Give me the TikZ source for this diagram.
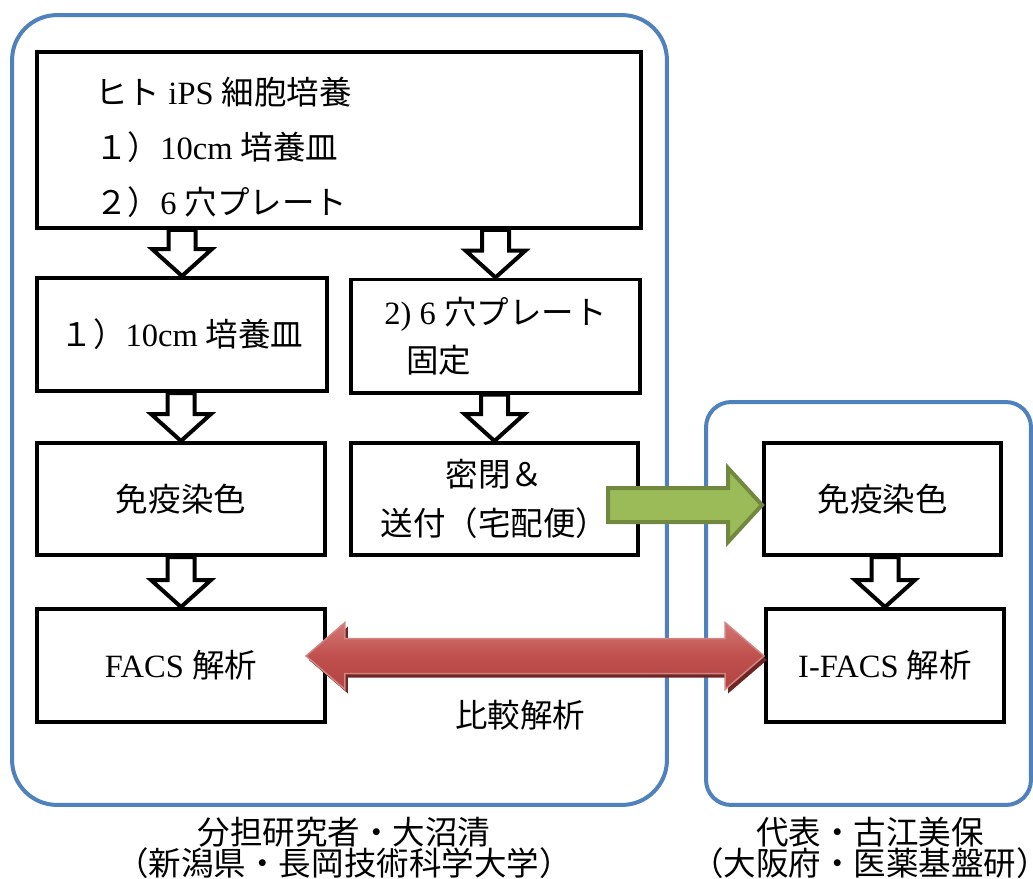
\documentclass[tikz,border=0pt]{standalone}
\usepackage{fontspec}
\setmainfont{Liberation Serif}
\newfontfamily\jpfont{Noto Sans CJK JP}
\newcommand\J[1]{{\jpfont #1}}
\usetikzlibrary{calc}
\definecolor{grpblue}{HTML}{4F81BD}
\definecolor{grnfill}{HTML}{9BBB59}
\definecolor{grnline}{HTML}{71893F}
\definecolor{redmid}{HTML}{C0504D}
\definecolor{redtop}{HTML}{D27774}
\definecolor{redbot}{HTML}{B04340}
\definecolor{redline}{HTML}{D38583}
\definecolor{redshadow}{HTML}{6E2624}
\newcommand\hollowarrow[2]{%
  \path[hollow] let \p1=(#1), \p2=(#2) in
  (\x2-0.27cm,\y1) -- (\x2-0.27cm,\y2+0.54cm) -- (\x2-0.6cm,\y2+0.54cm) -- (\x2,\y2)
  -- (\x2+0.6cm,\y2+0.54cm) -- (\x2+0.27cm,\y2+0.54cm) -- (\x2+0.27cm,\y1) -- cycle;}
\newcommand\dblarrow[3]{%
  \path[#1] let \p1=(#2), \p2=($(#2 -| r2.west)+(#3,0)$) in
  (\x1,\y1) -- (\x1+0.78cm,\y1+0.67cm) -- (\x1+0.78cm,\y1+0.35cm) -- (\x2-0.78cm,\y1+0.35cm)
  -- (\x2-0.78cm,\y1+0.67cm) -- (\x2,\y1) -- (\x2-0.78cm,\y1-0.67cm) -- (\x2-0.78cm,\y1-0.35cm)
  -- (\x1+0.78cm,\y1-0.35cm) -- (\x1+0.78cm,\y1-0.67cm) -- cycle;}
\begin{document}
\begin{tikzpicture}[x=0.02cm,y=-0.02cm,
  txt/.style={font=\fontsize{18.5}{22}\selectfont, inner sep=0pt},
  group/.style={draw=grpblue, line width=0.08cm, rounded corners=#1, inner sep=0pt},
  stepbox/.style 2 args={draw=black, line width=0.08cm, minimum width=#1*0.02cm,
    minimum height=#2*0.02cm, inner sep=0pt, font=\fontsize{18.5}{22}\selectfont, align=center},
  hollow/.style={draw=black, fill=white, line width=0.08cm, line join=miter},
]
\useasboundingbox (0,0) rectangle (1033,878);
% groups
\node[group=0.9cm, minimum width=13.1cm, minimum height=15.8cm] (gL) at (339.5,410) {};
\node[group=0.5cm, minimum width=6.5cm, minimum height=8.06cm] (gR) at (868.5,603.5) {};
% boxes
\node[stepbox={604}{176}] (top) at (339,140) {};
\node[txt, anchor=west, align=left, font=\fontsize{18.5}{31.3}\selectfont] (toptext) at (95,147)
  {\J{ヒト} iPS \J{細胞培養}\\\J{１）}10cm \J{培養皿}\\\J{２）}6 \J{穴プレート}};
\node[stepbox={290}{113}] (b1) at (182,334.5) {\J{１）}10cm \J{培養皿}};
\node[stepbox={289}{113}, align=left, font=\fontsize{18.5}{27.3}\selectfont] (b2) at (495.5,336)
  {2) 6 \J{穴プレート}\\\hspace{0.44cm}\J{固定}};
\node[stepbox={287}{112}, font=\fontsize{18.5}{27.9}\selectfont] (b4) at (494.5,499)
  {\J{密閉＆}\\\J{送付（宅配便）}};
\node[stepbox={288}{112}] (b3) at (181,499) {\J{免疫染色}};
\node[stepbox={288}{113}] (b5) at (181,665.5) {FACS \J{解析}};
\node[stepbox={237}{112}] (r1) at (882.5,499) {\J{免疫染色}};
\node[stepbox={238}{113}] (r2) at (885,665.5) {I-FACS \J{解析}};
% hollow arrows
\hollowarrow{top.south}{b1.north}
\hollowarrow{top.south}{b2.north}
\hollowarrow{b1.south}{b3.north}
\hollowarrow{b2.south}{b4.north}
\hollowarrow{b3.south}{b5.north}
\hollowarrow{r1.south}{r2.north}
% green arrow
\coordinate (gs) at (608,505);
\path[draw=grnline, fill=grnfill, line width=0.08cm, line join=miter]
  let \p1=(gs), \p2=(gs -| r1.west) in
  (\x1,\y1+0.34cm) -- (\x2-0.68cm,\y1+0.34cm) -- (\x2-0.68cm,\y1+0.74cm) -- (\x2,\y1)
  -- (\x2-0.68cm,\y1-0.74cm) -- (\x2-0.68cm,\y1-0.34cm) -- (\x1,\y1-0.34cm) -- cycle;
% red double arrow
\coordinate (rsh) at (309,660);
\coordinate (rs) at (306,656);
\dblarrow{fill=redshadow}{rsh}{3}
\dblarrow{draw=redline, line width=0.03cm, top color=redtop, bottom color=redbot, middle color=redmid}{rs}{0}
% labels
\node[txt] (cmp) at (520,715) {\J{比較解析}};
\node[txt, align=center, font=\fontsize{18.5}{17.7}\selectfont] (labL) at (344,848)
  {\J{分担研究者・大沼清}\\\J{（新潟県・長岡技術科学大学）}};
\node[txt, align=center, font=\fontsize{18.5}{17.7}\selectfont] (labR) at (870,848)
  {\J{代表・古江美保}\\\J{（大阪府・医薬基盤研）}};
\end{tikzpicture}
\end{document}
